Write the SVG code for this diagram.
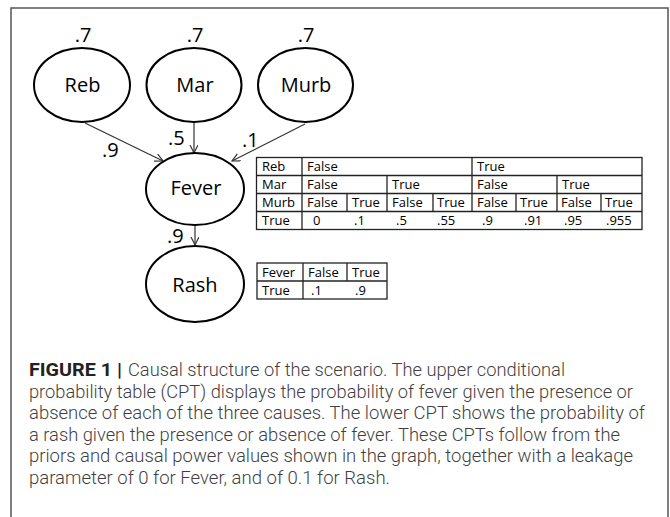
<svg xmlns="http://www.w3.org/2000/svg" width="670" height="517" viewBox="0 0 670 517">
<defs>
<style>
.node{fill:#fff;stroke:#000;stroke-width:2}
.nt{font-family:"Open Sans","Noto Sans",sans-serif;font-size:20px;fill:#000;text-anchor:middle}
.lab{font-family:"Open Sans","Noto Sans",sans-serif;font-size:20px;fill:#000}
.edge{stroke:#333;stroke-width:1.2;fill:none}
.tb{stroke:#222;stroke-width:1.3;fill:none}
.tt{font-family:"Open Sans","Noto Sans",sans-serif;font-size:13px;fill:#000}
.cap{font-family:Roboto,"Liberation Sans",sans-serif;font-size:19px;fill:#3f3f3f;font-weight:300}
.capb{font-family:Roboto,"Liberation Sans",sans-serif;font-size:19px;fill:#222;font-weight:700}
</style>
<marker id="arr" markerWidth="10" markerHeight="10" refX="8" refY="4" orient="auto" markerUnits="userSpaceOnUse">
<path d="M0,0 L8,4 L0,8" fill="none" stroke="#333" stroke-width="1.2"/>
</marker>
</defs>
<rect width="670" height="517" fill="#fff"/>
<rect x="11" y="8" width="657" height="520" fill="none" stroke="#555" stroke-width="1.5"/>

<g id="connectors">
<line class="edge" x1="85" y1="123" x2="163" y2="161" marker-end="url(#arr)"/>
<line class="edge" x1="194" y1="122" x2="194" y2="153" marker-end="url(#arr)"/>
<line class="edge" x1="305" y1="124" x2="232" y2="161" marker-end="url(#arr)"/>
<line class="edge" x1="195" y1="225" x2="195" y2="245" marker-end="url(#arr)"/>
<text class="lab" x="102" y="157">.9</text>
<text class="lab" x="168" y="145">.5</text>
<text class="lab" x="242" y="147">.1</text>
<text class="lab" x="167" y="243">.9</text>
</g>

<g id="reb">
<text class="nt" x="83" y="42">.7</text>
<ellipse class="node" cx="82" cy="85" rx="48" ry="37"/>
<text class="nt" x="82.5" y="92">Reb</text>
</g>
<g id="mar">
<text class="nt" x="195" y="42">.7</text>
<ellipse class="node" cx="194" cy="85" rx="47.5" ry="37"/>
<text class="nt" x="195" y="92">Mar</text>
</g>
<g id="murb">
<text class="nt" x="306" y="42">.7</text>
<ellipse class="node" cx="305.5" cy="85" rx="47.5" ry="37"/>
<text class="nt" x="306" y="92">Murb</text>
</g>
<g id="fever">
<ellipse class="node" cx="195" cy="189" rx="49" ry="36"/>
<text class="nt" x="196" y="195">Fever</text>
</g>
<g id="rash">
<ellipse class="node" cx="195" cy="284" rx="49" ry="38"/>
<text class="nt" x="195" y="292">Rash</text>
</g>

<g id="cpt-fever">
<rect class="tb" x="256.5" y="157.5" width="385.5" height="72"/>
<line class="tb" x1="256.5" y1="175.5" x2="642" y2="175.5"/>
<line class="tb" x1="256.5" y1="193.5" x2="642" y2="193.5"/>
<line class="tb" x1="256.5" y1="211.5" x2="642" y2="211.5"/>
<line class="tb" x1="302" y1="157.5" x2="302" y2="229.5"/>
<line class="tb" x1="472" y1="157.5" x2="472" y2="211.5"/>
<line class="tb" x1="387" y1="175.5" x2="387" y2="211.5"/>
<line class="tb" x1="557" y1="175.5" x2="557" y2="211.5"/>
<line class="tb" x1="347" y1="193.5" x2="347" y2="211.5"/>
<line class="tb" x1="433" y1="193.5" x2="433" y2="211.5"/>
<line class="tb" x1="516" y1="193.5" x2="516" y2="211.5"/>
<line class="tb" x1="601" y1="193.5" x2="601" y2="211.5"/>
<text class="tt" x="262" y="171">Reb</text>
<text class="tt" x="307" y="171">False</text>
<text class="tt" x="477" y="171">True</text>
<text class="tt" x="262" y="189">Mar</text>
<text class="tt" x="307" y="189">False</text>
<text class="tt" x="392" y="189">True</text>
<text class="tt" x="477" y="189">False</text>
<text class="tt" x="562" y="189">True</text>
<text class="tt" x="262" y="207">Murb</text>
<text class="tt" x="307" y="207">False</text>
<text class="tt" x="352" y="207">True</text>
<text class="tt" x="392" y="207">False</text>
<text class="tt" x="437" y="207">True</text>
<text class="tt" x="477" y="207">False</text>
<text class="tt" x="520" y="207">True</text>
<text class="tt" x="561" y="207">False</text>
<text class="tt" x="605" y="207">True</text>
<text class="tt" x="262" y="225">True</text>
<text class="tt" x="313" y="225">0</text>
<text class="tt" x="354" y="225">.1</text>
<text class="tt" x="396" y="225">.5</text>
<text class="tt" x="437" y="225">.55</text>
<text class="tt" x="482" y="225">.9</text>
<text class="tt" x="524" y="225">.91</text>
<text class="tt" x="564" y="225">.95</text>
<text class="tt" x="606" y="225">.955</text>
</g>

<g id="cpt-rash">
<rect class="tb" x="257" y="263" width="130" height="36"/>
<line class="tb" x1="257" y1="281" x2="387" y2="281"/>
<line class="tb" x1="303" y1="263" x2="303" y2="299"/>
<line class="tb" x1="347" y1="263" x2="347" y2="281"/>
<text class="tt" x="262" y="277">Fever</text>
<text class="tt" x="308" y="277">False</text>
<text class="tt" x="352" y="277">True</text>
<text class="tt" x="262" y="295">True</text>
<text class="tt" x="311" y="295">.1</text>
<text class="tt" x="355" y="295">.9</text>
</g>

<g id="caption">
<text class="capb" x="29" y="376" textLength="93" lengthAdjust="spacingAndGlyphs">FIGURE 1 |</text>
<text class="cap" x="128" y="376" textLength="437" lengthAdjust="spacingAndGlyphs">Causal structure of the scenario. The upper conditional</text>
<text class="cap" x="29" y="397.5" textLength="604" lengthAdjust="spacingAndGlyphs">probability table (CPT) displays the probability of fever given the presence or</text>
<text class="cap" x="29" y="419" textLength="616" lengthAdjust="spacingAndGlyphs">absence of each of the three causes. The lower CPT shows the probability of</text>
<text class="cap" x="29" y="440.5" textLength="591" lengthAdjust="spacingAndGlyphs">a rash given the presence or absence of fever. These CPTs follow from the</text>
<text class="cap" x="29" y="462" textLength="604" lengthAdjust="spacingAndGlyphs">priors and causal power values shown in the graph, together with a leakage</text>
<text class="cap" x="29" y="483.5" textLength="361" lengthAdjust="spacingAndGlyphs">parameter of 0 for Fever, and of 0.1 for Rash.</text>
</g>
</svg>
